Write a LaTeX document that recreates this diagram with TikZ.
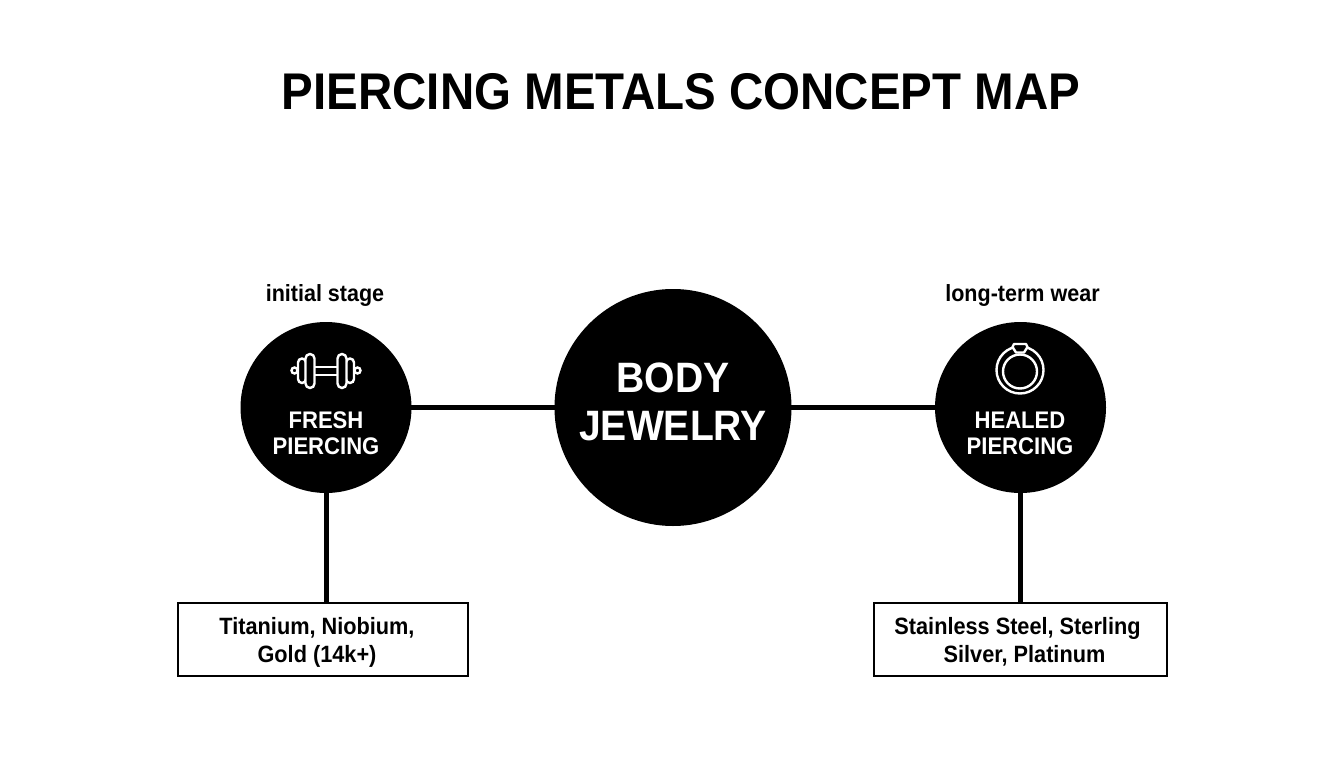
\documentclass[tikz,border=0pt]{standalone}
\usepackage{fontspec}
\usetikzlibrary{backgrounds}
\setmainfont{Liberation Sans}
\newfontfamily\rbold[FakeStretch=0.92]{Liberation Sans Bold}
\tikzset{
  x=1pt,y=-1pt,
  link/.style={line width=5pt,black},
  disc/.style={circle,fill=black,draw=none,inner sep=0pt},
  metalbox/.style={draw=black,line width=2.4pt,fill=white,minimum width=290pt,minimum height=73pt,inner sep=0pt},
  icon/.style={draw=white,line width=2.4pt,fill=black},
  whitetxt/.style={text=white,align=center,inner sep=0pt},
  blacktxt/.style={text=black,align=center,inner sep=0pt,font=\rbold\fontsize{23.6}{28}\selectfont},
  side/.style={text=black,inner sep=0pt,font=\rbold\fontsize{23.4}{26}\selectfont},
}
\begin{document}
\begin{tikzpicture}
\useasboundingbox (0,0) rectangle (1344,768);
\node[text=black,inner sep=0pt,font=\rbold\fontsize{51.6}{56}\selectfont] (title) at (681,92) {PIERCING METALS CONCEPT MAP};
\node[disc,minimum size=171pt] (fresh) at (326,407.5) {};
\node[disc,minimum size=237pt] (body) at (673,407.5) {};
\node[disc,minimum size=171pt] (healed) at (1020.5,407.5) {};
\node[metalbox] (mleft) at (323,639.5) {};
\node[metalbox,minimum width=293pt] (mright) at (1020.5,639.5) {};
\begin{pgfonlayer}{background}
\fill[white] (0,0) rectangle (1344,768);
\draw[link] (fresh.center) -- (body.center);
\draw[link] (body.center) -- (healed.center);
\draw[link] (fresh.center) -- (fresh.center|-mleft.north);
\draw[link] (healed.center) -- (healed.center|-mright.north);
\end{pgfonlayer}
\node[side] (lstage) at (325,295.5) {initial stage};
\node[side] (rstage) at (1022.5,295.5) {long-term wear};
\node[whitetxt,font=\rbold\fontsize{24}{26}\selectfont] (ftxt) at (326,433) {FRESH\\PIERCING};
\node[whitetxt,font=\rbold\fontsize{24}{26}\selectfont] (htxt) at (1020,433) {HEALED\\PIERCING};
\node[whitetxt,font=\rbold\fontsize{42.5}{48}\selectfont] (btxt) at (673,402) {BODY\\JEWELRY};
\node[blacktxt] (ltxt) at (317,642) {Titanium, Niobium,\\Gold (14k+)};
\node[blacktxt] (rtxt) at (1017.5,642) {Stainless Steel, Sterling\\\hspace*{14pt}Silver, Platinum};
% barbell icon
\draw[icon] (314,367) rectangle (338,375);
\draw[icon] (294.5,370.5) circle (3);
\draw[icon] (357.5,370.5) circle (3);
\draw[icon,rounded corners=4pt] (298,358.5) rectangle (306,383);
\draw[icon,rounded corners=4pt] (346,358.5) rectangle (354,383);
\draw[icon,rounded corners=4.5pt] (305.5,354) rectangle (314.5,388);
\draw[icon,rounded corners=4.5pt] (337.5,354) rectangle (346.5,388);
% ring icon
\draw[icon] (1020,370) circle (23.5);
\draw[icon] (1020,371.5) circle (17);
\draw[icon,line join=round] (1014,344) -- (1026,344) -- (1027.5,347) -- (1024,352.5) -- (1016,352.5) -- (1012.5,347) -- cycle;
\end{tikzpicture}
\end{document}
